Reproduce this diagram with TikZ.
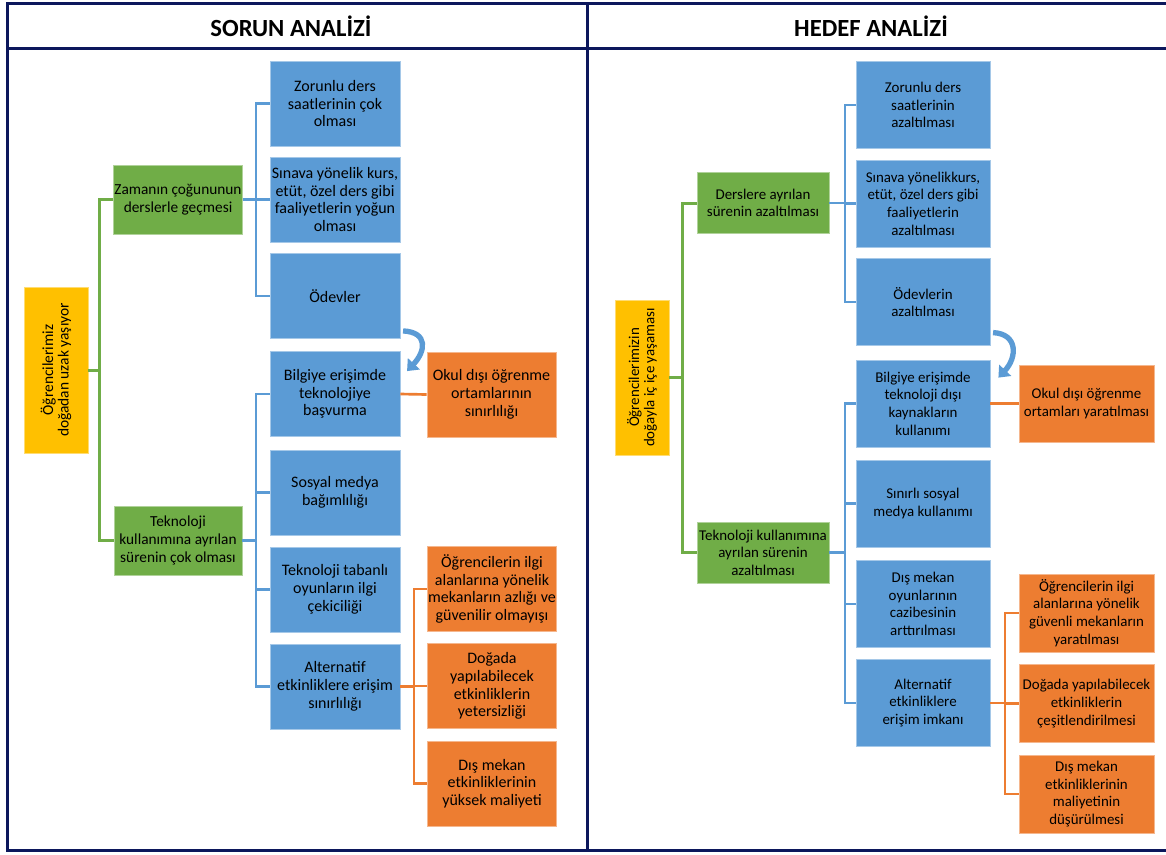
\documentclass[tikz,border=0pt]{standalone}
\usepackage{fontspec}
\setmainfont{Carlito}
\usetikzlibrary{arrows.meta}
\definecolor{cBlue}{HTML}{5B9BD5}
\definecolor{cGreen}{HTML}{70AD47}
\definecolor{cOrange}{HTML}{ED7D31}
\definecolor{cYellow}{HTML}{FFC000}
\definecolor{cNavy}{HTML}{0C175C}
\tikzset{
  cell/.style={draw=#1!55!white, fill=#1, line width=0.6pt, align=center, inner sep=0.5pt,
    font=\fontsize{11.2}{13.2}\selectfont},
  % left panel boxes
  lroot/.style={cell=cYellow, rotate=90, minimum width=124.5pt, minimum height=48pt,
    font=\fontsize{11.6}{11.6}\selectfont},
  lgreen/.style={cell=cGreen, minimum width=96pt, minimum height=51.75pt,
    font=\fontsize{11.5}{13.3}\selectfont},
  lblue/.style={cell=cBlue, minimum width=97.5pt, minimum height=63.75pt,
    font=\fontsize{12}{13.3}\selectfont},
  lorange/.style={cell=cOrange, minimum width=96.75pt, minimum height=63.75pt,
    font=\fontsize{12}{13.3}\selectfont},
  % right panel boxes
  rroot/.style={cell=cYellow, rotate=90, minimum width=116.25pt, minimum height=40.5pt,
    font=\fontsize{11.2}{11.4}\selectfont},
  rgreen/.style={cell=cGreen, minimum width=99pt, minimum height=45.75pt},
  rblue/.style={cell=cBlue, minimum width=100.5pt, minimum height=65.25pt},
  rorange/.style={cell=cOrange, minimum width=101.25pt, minimum height=58.5pt},
  gline/.style={cGreen, line width=2.25pt},
  bline/.style={cBlue, line width=2pt},
  oline/.style={cOrange, line width=2pt},
  turn/.style={cBlue, line width=4pt, -{Triangle[length=7.5pt,width=12pt]}},
  frame/.style={cNavy, line width=2.25pt},
  head/.style={font=\fontsize{18.5}{20}\selectfont\bfseries}
}

\begin{document}
\begin{tikzpicture}[x=0.75pt,y=-0.75pt]
  \fill[white] (0,0) rectangle (1166,854);
  \useasboundingbox (0,0) rectangle (1166,854);

  % frame and titles
  \draw[frame] (1166,3) -- (7,3) -- (7,850) -- (1166,850);
  \draw[frame] (7,48) -- (1166,48);
  \draw[frame] (587,3) -- (587,850);
  \node[head] (hL) at (291,26) {SORUN ANALİZİ};
  \node[head] (hR) at (871,26) {HEDEF ANALİZİ};

  % ---- sorun analizi ----
  \coordinate (tL) at (99,0);
  \coordinate (kL) at (256,0);
  \coordinate (sL) at (414,0);
  \node[lroot] (rootL) at (56,370) {Öğrencilerimiz\\doğadan uzak yaşıyor};
  \node[lgreen] (gL1) at (178,199.5) {Zamanın çoğununun\\derslerle geçmesi};
  \node[lgreen] (gL2) at (178,540.5) {Teknoloji\\kullanımına ayrılan\\sürenin çok olması};
  \node[lblue] (bL1) at (335,103.5) {Zorunlu ders\\saatlerinin çok\\olması};
  \node[lblue] (bL2) at (335,199.5) {Sınava yönelik kurs,\\etüt, özel ders gibi\\faaliyetlerin yoğun\\olması};
  \node[lblue] (bL3) at (335,296) {Ödevler};
  \node[lblue] (bL4) at (335,394) {Bilgiye erişimde\\teknolojiye\\başvurma};
  \node[lblue] (bL5) at (335,492.5) {Sosyal medya\\bağımlılığı};
  \node[lblue] (bL6) at (335,589.5) {Teknoloji tabanlı\\oyunların ilgi\\çekiciliği};
  \node[lblue] (bL7) at (335,686.5) {Alternatif\\etkinliklere erişim\\sınırlılığı};
  \node[lorange] (oL) at (491.5,394.5) {Okul dışı öğrenme\\ortamlarının\\sınırlılığı};
  \node[lorange] (oL1) at (492,589) {Öğrencilerin ilgi\\alanlarına yönelik\\mekanların azlığı ve\\güvenilir olmayışı};
  \node[lorange] (oL2) at (492,686) {Doğada\\yapılabilecek\\etkinliklerin\\yetersizliği};
  \node[lorange] (oL3) at (492,783.5) {Dış mekan\\etkinliklerinin\\yüksek maliyeti};

  \draw[gline] (rootL.south) -- (rootL.south -| tL);
  \draw[gline] (gL1.west) -- (gL1.west -| tL) -- (gL2.west -| tL) -- (gL2.west);
  \draw[bline] (bL1.west) -- (bL1.west -| kL) -- (bL3.west -| kL) -- (bL3.west);
  \draw[bline] (gL1.east) -- (gL1.east -| kL);
  \draw[bline] (bL2.west) -- (bL2.west -| kL);
  \draw[bline] (bL4.west) -- (bL4.west -| kL) -- (bL7.west -| kL) -- (bL7.west);
  \foreach \n in {5,6} \draw[bline] (bL\n.west) -- (bL\n.west -| kL);
  \draw[bline] (gL2.east) -- (gL2.east -| kL);
  \draw[oline] (bL4.east) -- (oL.west);
  \draw[oline] (bL7.east) -- (bL7.east -| sL);
  \draw[oline] (oL1.west) -- (oL1.west -| sL) -- (oL3.west -| sL) -- (oL3.west);
  \draw[oline] (oL2.west) -- (oL2.west -| sL);
  \draw[turn] ([xshift=2pt,yshift=6pt]bL3.south east) .. controls +(19pt,-1pt) and +(14pt,15pt) .. ([xshift=5pt,yshift=-15pt]bL4.north east);

  % ---- hedef analizi ----
  \coordinate (tR) at (682,0);
  \coordinate (kR) at (845,0);
  \coordinate (sR) at (1005,0);
  \node[rroot] (rootR) at (642,377.5) {Öğrencilerimizin\\doğayla iç içe yaşaması};
  \node[rgreen] (gR1) at (763,203) {Derslere ayrılan\\sürenin azaltılması};
  \node[rgreen] (gR2) at (763,552.5) {Teknoloji kullanımına\\ayrılan sürenin\\azaltılması};
  \node[rblue] (bR1) at (923,105) {Zorunlu ders\\saatlerinin\\azaltılması};
  \node[rblue] (bR2) at (923,203.5) {Sınava yönelikkurs,\\etüt, özel ders gibi\\faaliyetlerin\\azaltılması};
  \node[rblue] (bR3) at (923,302) {Ödevlerin\\azaltılması};
  \node[rblue] (bR4) at (923,403.5) {Bilgiye erişimde\\teknoloji dışı\\kaynakların\\kullanımı};
  \node[rblue] (bR5) at (923,503.5) {Sınırlı sosyal\\medya kullanımı};
  \node[rblue] (bR6) at (923,604) {Dış mekan\\oyunlarının\\cazibesinin\\arttırılması};
  \node[rblue] (bR7) at (923,703) {Alternatif\\etkinliklere\\erişim imkanı};
  \node[rorange, minimum height=57.75pt] (oR) at (1086.5,403.5) {Okul dışı öğrenme\\ortamları yaratılması};
  \node[rorange] (oR1) at (1086.5,613) {Öğrencilerin ilgi\\alanlarına yönelik\\güvenli mekanların\\yaratılması};
  \node[rorange] (oR2) at (1086.5,703.5) {Doğada yapılabilecek\\etkinliklerin\\çeşitlendirilmesi};
  \node[rorange] (oR3) at (1086.5,794) {Dış mekan\\etkinliklerinin\\maliyetinin\\düşürülmesi};

  \draw[gline] (rootR.south) -- (rootR.south -| tR);
  \draw[gline] (gR1.west) -- (gR1.west -| tR) -- (gR2.west -| tR) -- (gR2.west);
  \draw[bline] (bR1.west) -- (bR1.west -| kR) -- (bR3.west -| kR) -- (bR3.west);
  \draw[bline] (gR1.east) -- (gR1.east -| kR);
  \draw[bline] (bR2.west) -- (bR2.west -| kR);
  \draw[bline] (bR4.west) -- (bR4.west -| kR) -- (bR7.west -| kR) -- (bR7.west);
  \foreach \n in {5,6} \draw[bline] (bR\n.west) -- (bR\n.west -| kR);
  \draw[bline] (gR2.east) -- (gR2.east -| kR);
  \draw[oline] (bR4.east) -- (oR.west);
  \draw[oline] (bR7.east) -- (bR7.east -| sR);
  \draw[oline] (oR1.west) -- (oR1.west -| sR) -- (oR3.west -| sR) -- (oR3.west);
  \draw[oline] (oR2.west) -- (oR2.west -| sR);
  \draw[turn] ([xshift=2pt,yshift=10pt]bR3.south east) .. controls +(19pt,-1pt) and +(14pt,15pt) .. ([xshift=6pt,yshift=-13.5pt]bR4.north east);
\end{tikzpicture}
\end{document}
